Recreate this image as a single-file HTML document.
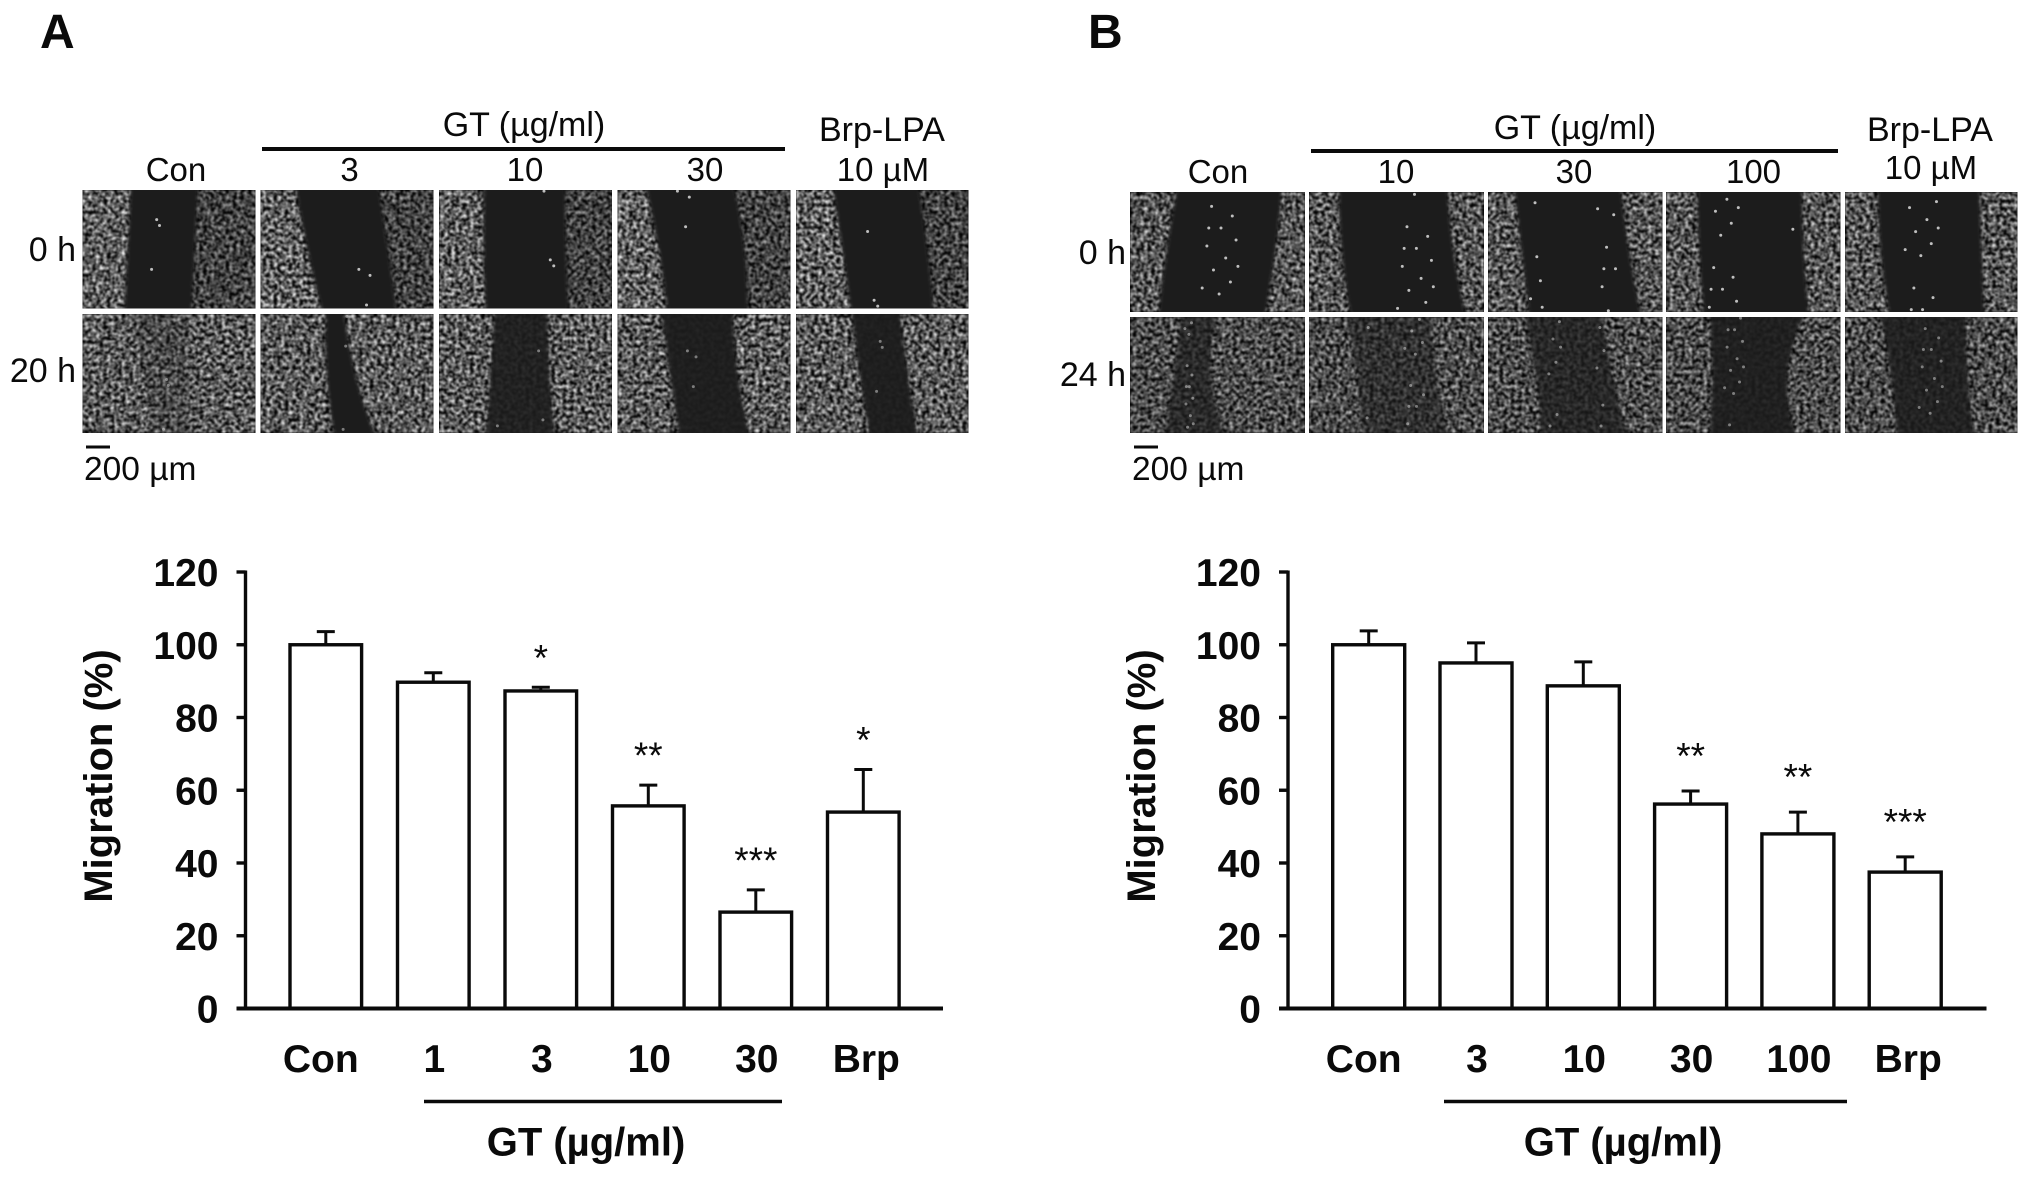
<!DOCTYPE html>
<html lang="en">
<head>
<meta charset="utf-8">
<title>Wound healing migration figure</title>
<style>
html,body{margin:0;padding:0;background:#fff;}
svg{display:block;}
text{font-family:"Liberation Sans",Arial,sans-serif;fill:#0a0a0a;}
</style>
</head>
<body>
<svg id="fig" xmlns="http://www.w3.org/2000/svg" width="2031" height="1178" viewBox="0 0 2031 1178">
  <defs>
    <filter id="cells0" x="0" y="0" width="1" height="1" color-interpolation-filters="sRGB"><feTurbulence type="fractalNoise" baseFrequency="0.27" numOctaves="2" seed="3"/><feColorMatrix values="1.9 0 0 0 -0.58 1.9 0 0 0 -0.58 1.9 0 0 0 -0.58 0 0 0 0 1"/><feGaussianBlur stdDeviation="0.7"/></filter>
    <filter id="cells1" x="0" y="0" width="1" height="1" color-interpolation-filters="sRGB"><feTurbulence type="fractalNoise" baseFrequency="0.27" numOctaves="2" seed="11"/><feColorMatrix values="1.9 0 0 0 -0.58 1.9 0 0 0 -0.58 1.9 0 0 0 -0.58 0 0 0 0 1"/><feGaussianBlur stdDeviation="0.7"/></filter>
    <filter id="cells2" x="0" y="0" width="1" height="1" color-interpolation-filters="sRGB"><feTurbulence type="fractalNoise" baseFrequency="0.27" numOctaves="2" seed="23"/><feColorMatrix values="1.9 0 0 0 -0.58 1.9 0 0 0 -0.58 1.9 0 0 0 -0.58 0 0 0 0 1"/><feGaussianBlur stdDeviation="0.7"/></filter>
    <filter id="soft" x="-20%" y="-20%" width="140%" height="140%"><feGaussianBlur stdDeviation="1.6"/></filter>
  </defs>
  <g id="panelA">
    <text x="40" y="48" font-size="48" font-weight="700">A</text>
    <text x="524" y="136" font-size="34" text-anchor="middle">GT (µg/ml)</text>
    <line x1="262" x2="785" y1="149" y2="149" stroke="#0a0a0a" stroke-width="4"/>
    <text x="882" y="141" font-size="34" text-anchor="middle">Brp-LPA</text>
    <text x="176" y="181" font-size="33" text-anchor="middle">Con</text>
    <text x="349.5" y="181" font-size="33" text-anchor="middle">3</text>
    <text x="525" y="181" font-size="33" text-anchor="middle">10</text>
    <text x="705" y="181" font-size="33" text-anchor="middle">30</text>
    <text x="883" y="181" font-size="33" text-anchor="middle">10 µM</text>
    <text x="76" y="261" font-size="34" text-anchor="end">0 h</text>
    <text x="76" y="382" font-size="34" text-anchor="end">20 h</text>
    <line x1="86" x2="110" y1="447" y2="447" stroke="#0a0a0a" stroke-width="3"/>
    <text x="84" y="480" font-size="33.5">200 µm</text>
  </g>
  <g id="panelB">
    <text x="1088" y="48" font-size="48" font-weight="700">B</text>
    <text x="1575" y="139" font-size="34" text-anchor="middle">GT (µg/ml)</text>
    <line x1="1311" x2="1838" y1="151" y2="151" stroke="#0a0a0a" stroke-width="4"/>
    <text x="1930" y="141" font-size="34" text-anchor="middle">Brp-LPA</text>
    <text x="1218" y="183" font-size="33" text-anchor="middle">Con</text>
    <text x="1396" y="183" font-size="33" text-anchor="middle">10</text>
    <text x="1574" y="183" font-size="33" text-anchor="middle">30</text>
    <text x="1753.5" y="183" font-size="33" text-anchor="middle">100</text>
    <text x="1931" y="179" font-size="33" text-anchor="middle">10 µM</text>
    <text x="1126" y="264" font-size="34" text-anchor="end">0 h</text>
    <text x="1126" y="386" font-size="34" text-anchor="end">24 h</text>
    <line x1="1134" x2="1158" y1="447" y2="447" stroke="#0a0a0a" stroke-width="3"/>
    <text x="1132" y="480" font-size="33.5">200 µm</text>
  </g>
  <g id="micrographs"></g>
  <g id="chartA"></g>
  <g id="chartB"></g>
</svg>
<script>
// Chart data
const yTickValues = [0, 20, 40, 60, 80, 100, 120];
const categoriesA = ['Con', '1', '3', '10', '30', 'Brp'];
const valuesA = [100, 89.7, 87.3, 55.7, 26.5, 54];
const errorsA = [3.6, 2.6, 1, 5.7, 6.1, 11.7];
const starsA = ['', '', '*', '**', '***', '*'];
const categoriesB = ['Con', '3', '10', '30', '100', 'Brp'];
const valuesB = [100, 95, 88.7, 56.2, 48, 37.5];
const errorsB = [3.8, 5.5, 6.6, 3.6, 6, 4.2];
const starsB = ['', '', '', '**', '**', '***'];

const NS = 'http://www.w3.org/2000/svg';
function make(parent, tag, attrs, txt) {
  const e = document.createElementNS(NS, tag);
  for (const k in attrs) e.setAttribute(k, attrs[k]);
  if (txt !== undefined) e.textContent = txt;
  parent.appendChild(e);
  return e;
}

function drawChart(root, cats, vals, errs, stars, o) {
  const y = v => o.y0 - v * o.k;
  const x = i => o.cx0 + i * o.step;
  const labelShift = i => (i === 0 ? -5 : i === cats.length - 1 ? 3 : 1);
  const ink = '#0a0a0a';
  vals.forEach((v, i) => {
    const stem = make(root, 'line', {x1: x(i), x2: x(i), y1: y(v), y2: y(v + errs[i]), stroke: ink, 'stroke-width': 3});
    
    
    const cap = make(root, 'line', {x1: x(i) - 9, x2: x(i) + 9, y1: y(v + errs[i]), y2: y(v + errs[i]), stroke: ink, 'stroke-width': 3});
    
    
    const bar = make(root, 'rect', {x: x(i) - o.barW / 2, y: y(v), width: o.barW, height: y(0) - y(v), fill: '#fff', stroke: ink, 'stroke-width': 3.4});
    
    
    const lab = make(root, 'text', {x: x(i) + labelShift(i), y: o.catY, 'font-size': 39, 'font-weight': 700, 'text-anchor': 'middle'}, cats[i]);
    
    
    if (stars[i]) {
      const s = make(root, 'text', {x: x(i), y: y(v + errs[i]) - o.starGap + 21, 'font-size': 37, 'text-anchor': 'middle'}, stars[i]);
      
      
    }
  });
  const yAxis = make(root, 'line', {x1: o.axisX, x2: o.axisX, y1: y(120) - 1.5, y2: y(0), stroke: ink, 'stroke-width': 3.4});
  
  
  const xAxis = make(root, 'line', {x1: o.axisX - 9, x2: o.axisEnd, y1: y(0), y2: y(0), stroke: ink, 'stroke-width': 4});
  
  
  yTickValues.forEach(t => {
    const tick = make(root, 'line', {x1: o.axisX - 9, x2: o.axisX, y1: y(t), y2: y(t), stroke: ink, 'stroke-width': 3.4});
    
    
    const lab = make(root, 'text', {x: o.axisX - 27, y: y(t) + 14, 'font-size': 39, 'font-weight': 700, 'text-anchor': 'end'}, String(t));
    
    
  });
  const title = make(root, 'text', {transform: 'translate(' + o.titleX + ' ' + o.titleY + ') rotate(-90)', 'font-size': 40, 'font-weight': 700, 'text-anchor': 'middle'}, 'Migration (%)');
  
  
  const rule = make(root, 'line', {x1: o.ruleX1, x2: o.ruleX2, y1: 1101.5, y2: 1101.5, stroke: ink, 'stroke-width': 3.5});
  
  
  const gt = make(root, 'text', {x: o.gtX, y: 1155.5, 'font-size': 40, 'font-weight': 700, 'text-anchor': 'middle'}, 'GT (µg/ml)');
  
  
}

drawChart(document.getElementById('chartA'), categoriesA, valuesA, errorsA, starsA, {
  y0: 1008.5, k: 3.6375, cx0: 325.8, step: 107.5, barW: 71.6, axisX: 245.5, axisEnd: 943, catY: 1072,
  starGap: 38, titleX: 112, titleY: 776, ruleX1: 424, ruleX2: 782, gtX: 586
});
drawChart(document.getElementById('chartB'), categoriesB, valuesB, errorsB, starsB, {
  y0: 1008.5, k: 3.6375, cx0: 1368.7, step: 107.3, barW: 72, axisX: 1288, axisEnd: 1986.5, catY: 1072,
  starGap: 43.5, titleX: 1155, titleY: 776, ruleX1: 1444, ruleX2: 1847, gtX: 1623
});

// Micrograph panels (decorative photographic texture)
const wrap = document.getElementById('micrographs');
const columnsA = [[82.5, 173], [260.5, 173], [439, 173], [617.5, 173], [796, 172.5]];
const columnsB = [[1130, 175], [1309, 175], [1488, 174.5], [1666, 174.5], [1845, 172.5]];
const rowsA = [[190, 118.5], [314, 119]];
const rowsB = [[192, 120], [317, 116]];
const woundsA = [
  [[[.28,.67],[.26,.65],[.24,.63]], 1, 1],
  [[[.2,.68],[.26,.74],[.36,.79]], 1, 1],
  [[[.26,.73],[.25,.73],[.27,.75]], 1, 1],
  [[[.16,.67],[.25,.76],[.29,.75]], 1, 1],
  [[[.21,.71],[.27,.77],[.32,.8]], 1, 1],
  [[[.3,.62],[.36,.6],[.4,.62]], .25, .95],
  [[[.38,.48],[.36,.52],[.43,.67]], 1, .95],
  [[[.32,.63],[.3,.63],[.27,.67]], .9, .95],
  [[[.25,.67],[.3,.67],[.36,.77]], .95, .95],
  [[[.32,.6],[.36,.64],[.43,.71]], .95, .95]
];
const woundsB = [
  [[[.27,.87],[.2,.84],[.16,.77]], 1, .9],
  [[[.17,.79],[.17,.81],[.24,.9]], 1, .9],
  [[[.15,.76],[.19,.8],[.24,.88]], 1, .9],
  [[[.18,.78],[.18,.78],[.22,.82]], 1, .9],
  [[[.19,.78],[.19,.79],[.26,.81]], 1, .9],
  [[[.3,.5],[.25,.4],[.2,.55]], .7, .8],
  [[[.2,.7],[.3,.7],[.3,.8]], .55, .8],
  [[[.2,.65],[.3,.7],[.3,.8]], .75, .8],
  [[[.25,.8],[.28,.62],[.25,.75]], .9, .8],
  [[[.2,.7],[.28,.7],[.3,.75]], .85, .8]
];
const specksA = [[.42,.25],[.44,.5],[.33,.67],[.55,.8],[.47,.3],[.6,.55]];
const specksB = [[.4,.12],[.5,.3],[.35,.45],[.62,.2],[.55,.55],[.42,.65],[.68,.62],[.3,.8],[.48,.85],[.6,.75],[.37,.3],[.66,.4]];

function drawPanels(cols, rows, wounds, specks, tag) {
  rows.forEach((r, ri) => {
    cols.forEach((c, ci) => {
      const w = wounds[ri * 5 + ci];
      const g = make(wrap, 'g', {});
      
      
      const cid = 'clip' + tag + ri + ci;
      const defs = make(g, 'clipPath', {id: cid});
      make(defs, 'rect', {x: c[0], y: r[0], width: c[1], height: r[1]});
      const inner = make(g, 'g', {'clip-path': 'url(#' + cid + ')'});
      make(inner, 'rect', {x: c[0], y: r[0], width: c[1], height: r[1], fill: '#000'});
      make(inner, 'rect', {x: c[0], y: r[0], width: c[1], height: r[1], filter: 'url(#cells' + ((ri + ci * 2) % 3) + ')', opacity: w[2]});
      if (w[2] === 1) make(inner, 'rect', {x: c[0] + c[1] * .55, y: r[0], width: c[1] * .45, height: r[1], fill: '#000', opacity: .3});
      const px = f => c[0] + f * c[1];
      const L = w[0];
      const dPath = 'M' + px(L[0][0]) + ' ' + (r[0] - 6) +
        ' Q' + px(L[1][0]) + ' ' + (r[0] + r[1] / 2) + ' ' + px(L[2][0]) + ' ' + (r[0] + r[1] + 6) +
        ' L' + px(L[2][1]) + ' ' + (r[0] + r[1] + 6) +
        ' Q' + px(L[1][1]) + ' ' + (r[0] + r[1] / 2) + ' ' + px(L[0][1]) + ' ' + (r[0] - 6) + ' Z';
      make(inner, 'path', {d: dPath, fill: '#1a1a1a', opacity: w[1], filter: 'url(#soft)'});
      const base = ri === 0 ? .85 : .5;
      specks.forEach((s, si) => {
        if ((si + ci) % 2 === 0 || tag === 'b') {
          const fx = (s[0] + ci * .23 + ri * .11) % 1;
          const fy = (s[1] + ci * .17 + ri * .3) % 1;
          make(inner, 'circle', {cx: px(L[1][0] + (L[1][1] - L[1][0]) * (.08 + fx * .84)), cy: r[0] + fy * r[1], r: 1.5, fill: '#dcdcdc', opacity: base});
        }
      });
    });
  });
}
drawPanels(columnsA, rowsA, woundsA, specksA, 'a');
drawPanels(columnsB, rowsB, woundsB, specksB, 'b');
</script>
</body>
</html>
